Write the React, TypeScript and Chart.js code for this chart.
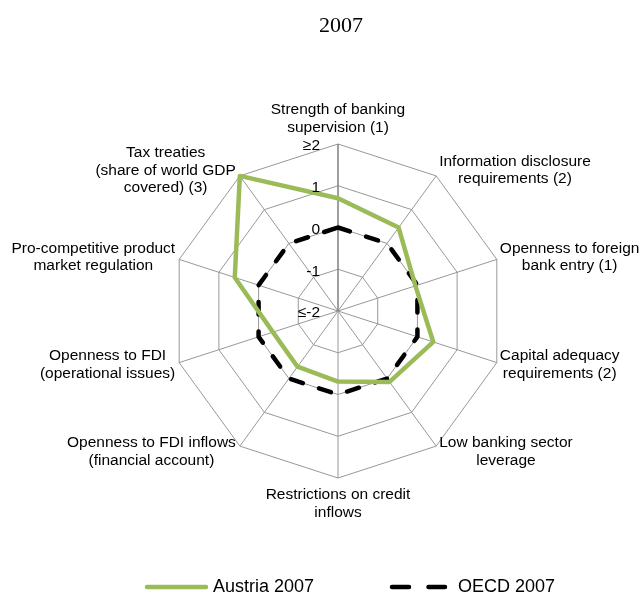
import React, { useEffect, useRef } from 'react';
import { Chart, registerables } from 'chart.js';

Chart.register(...registerables);

const chartTitle = '2007';

const categories: string[][] = [
  ['Strength of banking', 'supervision (1)'],
  ['Information disclosure', 'requirements (2)'],
  ['Openness to foreign', 'bank entry (1)'],
  ['Capital adequacy', 'requirements (2)'],
  ['Low banking sector', 'leverage'],
  ['Restrictions on credit', 'inflows'],
  ['Openness to FDI inflows', '(financial account)'],
  ['Openness to FDI', '(operational issues)'],
  ['Pro-competitive product', 'market regulation'],
  ['Tax treaties', '(share of world GDP', 'covered) (3)'],
];

const austria2007: number[] = [0.7, 0.47, -0.05, 0.4, 0.1, -0.31, -0.35, -0.36, 0.6, 2.0];
const oecd2007: number[] = [0, 0, 0, 0, 0, 0, 0, 0, 0, 0];

const tickValues: number[] = [-2, -1, 0, 1, 2];
const tickLabels: string[] = ['≤-2', '-1', '0', '1', '≥2'];

const seriesNames: string[] = ['Austria 2007', 'OECD 2007'];

const GREEN = '#9BBB59';
const BLACK = '#000000';
const SANS = '"Liberation Sans", Arial, sans-serif';
const SERIF = '"Liberation Serif", "Times New Roman", serif';
const DASH = [12.5, 17];

const overlayPlugin = {
  id: 'overlay',
  afterDraw(chart: any) {
    const ctx: CanvasRenderingContext2D = chart.ctx;
    const scale = chart.scales.r;
    const cx = scale.xCenter;
    const cy = scale.yCenter;
    const R = scale.drawingArea;
    ctx.save();
    ctx.fillStyle = '#000';

    // title
    ctx.font = `22px ${SERIF}`;
    ctx.textAlign = 'center';
    ctx.textBaseline = 'middle';
    ctx.fillText(chartTitle, 341, 26);

    // tick labels
    ctx.font = `15.5px ${SANS}`;
    ctx.textAlign = 'right';
    ctx.textBaseline = 'middle';
    tickValues.forEach((v, i) => {
      const d = scale.getDistanceFromCenterForValue(v);
      ctx.fillText(tickLabels[i], cx - 18, cy - d + 2);
    });

    // point labels
    const lh = 17.5;
    const labels = chart.data.labels as string[][];
    ctx.textAlign = 'center';
    labels.forEach((lines, i) => {
      const p = scale.getPointPosition(i, R);
      const ang = scale.getIndexAngle(i);
      const deg = Math.round((ang * 180) / Math.PI) % 360;
      const bw = Math.max(...lines.map((l) => ctx.measureText(l).width));
      const bh = lines.length * lh;
      let left: number;
      let top: number;
      if (deg === 0) {
        left = p.x - bw / 2;
        top = p.y - 8 - bh;
      } else if (deg === 180) {
        left = p.x - bw / 2;
        top = p.y + 8;
      } else {
        const mid = p.y - 7 * Math.cos(ang);
        top = mid - bh / 2;
        left = deg < 180 ? p.x + 3 : p.x - 4 - bw;
      }
      lines.forEach((l, k) => ctx.fillText(l, left + bw / 2, top + lh * (k + 0.5)));
    });

    // legend
    const ly = 587;
    ctx.lineWidth = 4.5;
    ctx.lineCap = 'round';
    ctx.strokeStyle = GREEN;
    ctx.setLineDash([]);
    ctx.beginPath();
    ctx.moveTo(147, ly);
    ctx.lineTo(206, ly);
    ctx.stroke();
    ctx.strokeStyle = BLACK;
    ctx.setLineDash([17, 19.5]);
    ctx.beginPath();
    ctx.moveTo(392, ly);
    ctx.lineTo(445, ly);
    ctx.stroke();
    ctx.setLineDash([]);
    ctx.font = `18px ${SANS}`;
    ctx.textAlign = 'left';
    ctx.textBaseline = 'middle';
    ctx.fillText(seriesNames[0], 213, ly);
    ctx.fillText(seriesNames[1], 458, ly);
    ctx.restore();
  },
};

export default function App() {
  const ref = useRef<HTMLCanvasElement | null>(null);
  useEffect(() => {
    if (!ref.current) return;
    const chart = new Chart(ref.current, {
      type: 'radar',
      data: {
        labels: categories,
        datasets: [
          {
            label: seriesNames[0],
            data: austria2007,
            borderColor: GREEN,
            backgroundColor: 'transparent',
            borderWidth: 4.5,
            fill: false,
            pointRadius: 0,
            pointHoverRadius: 0,
            tension: 0,
            borderJoinStyle: 'round',
          },
          {
            label: seriesNames[1],
            data: oecd2007,
            borderColor: BLACK,
            backgroundColor: 'transparent',
            borderWidth: 4.5,
            borderDash: DASH,
            borderCapStyle: 'round',
            fill: false,
            pointRadius: 0,
            pointHoverRadius: 0,
            tension: 0,
          },
        ],
      },
      options: {
        responsive: false,
        animation: false,
        devicePixelRatio: 1,
        layout: { padding: { left: 171, right: 139, top: 144, bottom: 120 } },
        plugins: {
          legend: { display: false },
          title: { display: false },
          tooltip: { enabled: false },
        },
        scales: {
          r: {
            min: -2,
            max: 2,
            beginAtZero: false,
            ticks: { display: false, stepSize: 1 },
            grid: { color: '#989898', lineWidth: 1, circular: false },
            angleLines: {
              display: true,
              color: (c: any) => (c.index === 0 ? '#7f7f7f' : '#989898'),
              lineWidth: (c: any) => (c.index === 0 ? 1.5 : 1),
            },
            pointLabels: { display: false },
          },
        },
      } as any,
      plugins: [overlayPlugin],
    });
    return () => chart.destroy();
  }, []);
  return (
    <div style={{ position: 'absolute', left: 0, top: 0, width: 644, height: 598, background: '#fff' }}>
      <canvas ref={ref} width={644} height={598} style={{ display: 'block', width: 644, height: 598 }} />
    </div>
  );
}
